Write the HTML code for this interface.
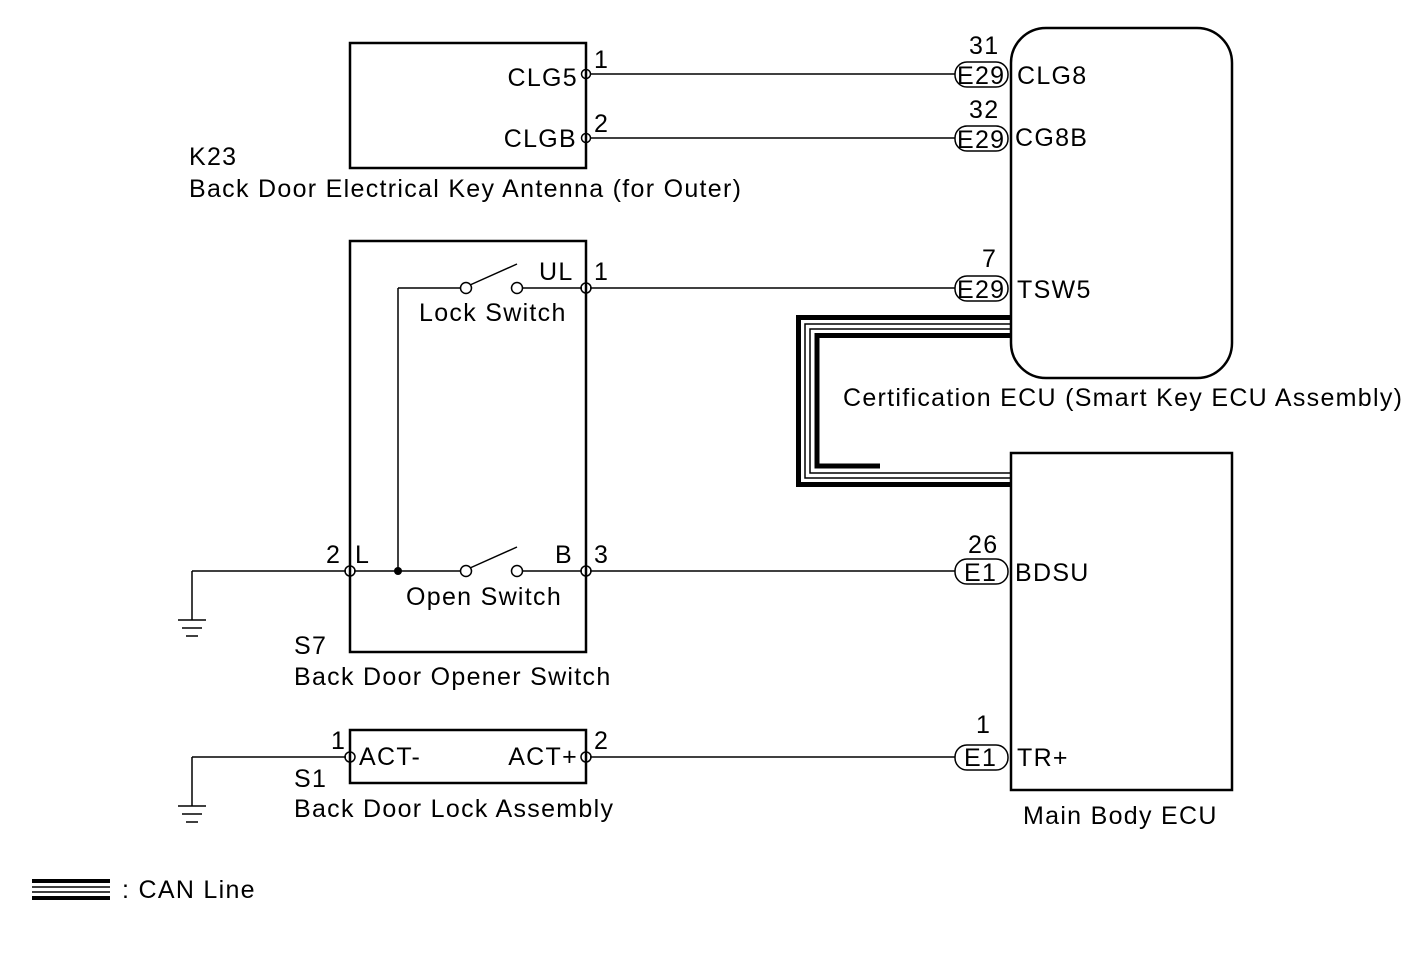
<!DOCTYPE html>
<html><head><style>body{margin:0;background:#fff}svg{display:block}text{font-family:"Liberation Sans",Arial,sans-serif;font-size:25px;letter-spacing:1.3px;fill:#000}</style></head><body>
<svg width="1424" height="959" viewBox="0 0 1424 959" xmlns="http://www.w3.org/2000/svg">
<g fill="none" stroke="#000" stroke-width="2.5">
<rect x="350" y="43" width="236" height="125"/>
<rect x="350" y="241" width="236" height="411"/>
<rect x="350" y="730" width="236" height="53"/>
<rect x="1011" y="28" width="221" height="350" rx="35"/>
<rect x="1011" y="453" width="221" height="337"/>
</g>
<g fill="none" stroke="#000" stroke-width="1.5">
<line x1="590" y1="74" x2="955" y2="74"/>
<line x1="590" y1="138" x2="955" y2="138"/>
<line x1="590" y1="288" x2="955" y2="288"/>
<line x1="590" y1="571" x2="955" y2="571"/>
<line x1="590" y1="757" x2="955" y2="757"/>
<line x1="192" y1="571" x2="346" y2="571"/>
<line x1="192" y1="571" x2="192" y2="620"/>
<line x1="192" y1="757" x2="346" y2="757"/>
<line x1="192" y1="757" x2="192" y2="806"/>
<line x1="178" y1="620" x2="206" y2="620"/><line x1="182" y1="628" x2="202" y2="628"/><line x1="186" y1="636" x2="198" y2="636"/>
<line x1="178" y1="806" x2="206" y2="806"/><line x1="182" y1="814" x2="202" y2="814"/><line x1="186" y1="822" x2="198" y2="822"/>
<line x1="354" y1="571" x2="460" y2="571"/>
<line x1="523" y1="571" x2="582" y2="571"/>
<line x1="398" y1="571" x2="398" y2="288"/>
<line x1="398" y1="288" x2="460" y2="288"/>
<line x1="523" y1="288" x2="582" y2="288"/>
<line x1="470" y1="285" x2="517" y2="264"/>
<line x1="470" y1="568" x2="517" y2="547"/>
<circle cx="466" cy="288" r="5.5"/><circle cx="517" cy="288" r="5.5"/>
<circle cx="466" cy="571" r="5.5"/><circle cx="517" cy="571" r="5.5"/>
<circle cx="586" cy="74" r="4.5"/><circle cx="586" cy="138" r="4.5"/>
<circle cx="586" cy="288" r="5"/><circle cx="586" cy="571" r="5"/><circle cx="350" cy="571" r="5"/>
<circle cx="586" cy="757" r="5"/><circle cx="350" cy="757" r="5"/>
<rect x="955" y="62" width="53" height="25" rx="12"/>
<rect x="955" y="126" width="53" height="25" rx="12"/>
<rect x="955" y="276" width="53" height="25" rx="12"/>
<rect x="955" y="559" width="53" height="25" rx="12"/>
<rect x="955" y="745" width="53" height="25" rx="12"/>
</g>
<circle cx="398" cy="571" r="4" fill="#000"/>
<g fill="none" stroke="#000">
<path d="M1011 317.5 H798.5 V484.5 H1011" stroke-width="5"/>
<path d="M1011 324 H805 V478 H1011" stroke-width="1.5"/>
<path d="M1011 329 H810 V473 H1011" stroke-width="1.5"/>
<path d="M1011 335.5 H817 V466 H880" stroke-width="5"/>
<line x1="32" y1="881" x2="110" y2="881" stroke-width="4"/>
<line x1="32" y1="887" x2="110" y2="887" stroke-width="1.5"/>
<line x1="32" y1="892" x2="110" y2="892" stroke-width="1.5"/>
<line x1="32" y1="898" x2="110" y2="898" stroke-width="4"/>
</g>
<text x="578" y="86" text-anchor="end">CLG5</text><text x="594" y="68">1</text>
<text x="577" y="147" text-anchor="end">CLGB</text><text x="594" y="132">2</text>
<text x="189" y="165">K23</text>
<text x="189" y="197">Back Door Electrical Key Antenna (for Outer)</text>
<text x="969" y="54">31</text><text x="957" y="84">E29</text><text x="1017" y="84">CLG8</text>
<text x="969" y="118">32</text><text x="957" y="148">E29</text><text x="1015" y="146">CG8B</text>
<text x="982" y="267">7</text><text x="957" y="298">E29</text><text x="1017" y="298">TSW5</text>
<text x="539" y="280">UL</text><text x="594" y="280">1</text>
<text x="419" y="321">Lock Switch</text>
<text x="326" y="563">2</text><text x="355" y="563">L</text>
<text x="555" y="563">B</text><text x="594" y="563">3</text>
<text x="406" y="605">Open Switch</text>
<text x="294" y="654">S7</text>
<text x="294" y="685">Back Door Opener Switch</text>
<text x="843" y="406">Certification ECU (Smart Key ECU Assembly)</text>
<text x="968" y="553">26</text><text x="964" y="581">E1</text><text x="1015" y="581">BDSU</text>
<text x="976" y="733">1</text><text x="964" y="766">E1</text><text x="1017" y="766">TR+</text>
<text x="331" y="749">1</text><text x="359" y="765">ACT-</text>
<text x="578" y="765" text-anchor="end">ACT+</text><text x="594" y="749">2</text>
<text x="294" y="787">S1</text>
<text x="294" y="817">Back Door Lock Assembly</text>
<text x="1023" y="824">Main Body ECU</text>
<text x="122" y="898">:  CAN Line</text>
</svg>
</body></html>
